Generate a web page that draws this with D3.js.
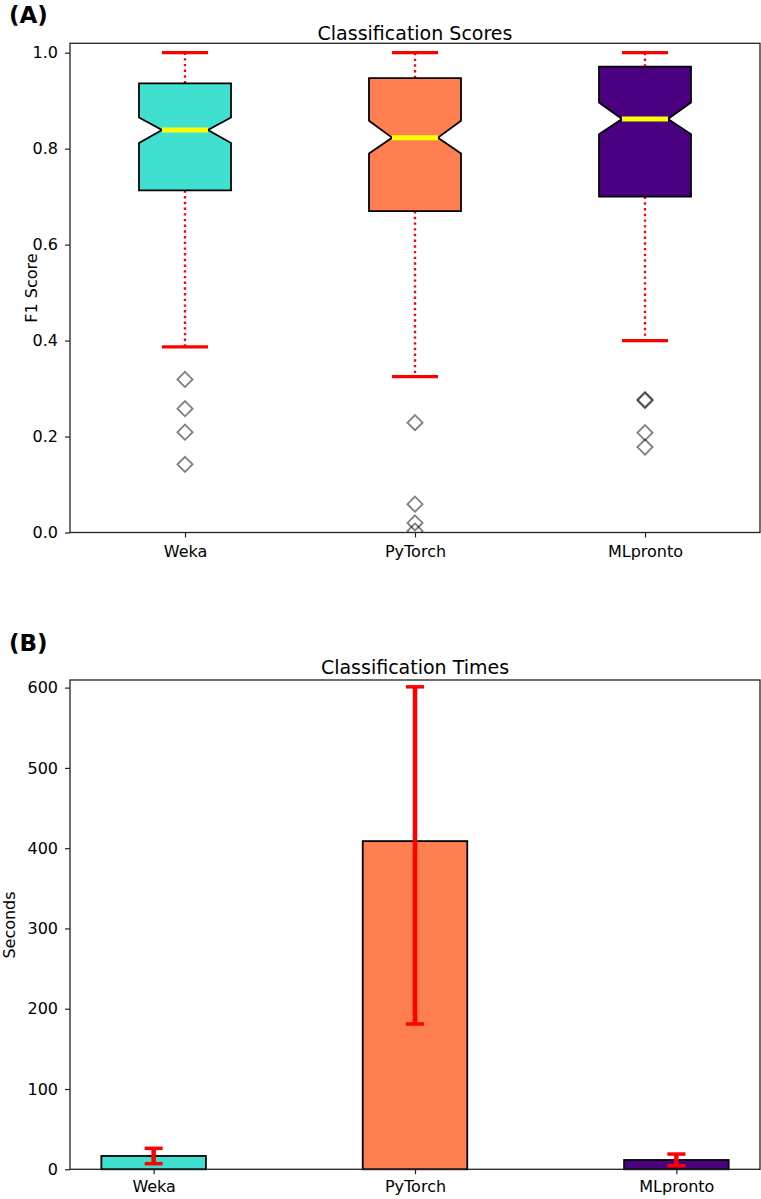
<!DOCTYPE html>
<html><head><meta charset="utf-8">
<script src="https://cdn.jsdelivr.net/npm/d3@7/dist/d3.min.js"></script>
<style>body{margin:0;background:#fff}svg{display:block;font-family:"DejaVu Sans",sans-serif}</style>
</head><body><svg id="c" width="761" height="1199"></svg>
<script>
const categories = ["Weka", "PyTorch", "MLpronto"];
const colors = ["#40E0D0", "#FF7F50", "#4B0082"];
// Panel A: box plot statistics (F1 score)
const boxQ1 = [0.713, 0.670, 0.700];
const boxMedian = [0.839, 0.823, 0.862];
const boxQ3 = [0.936, 0.947, 0.971];
const notchLow = [0.812, 0.790, 0.830];
const notchHigh = [0.865, 0.858, 0.896];
const whiskerLow = [0.387, 0.325, 0.400];
const whiskerHigh = [1.0, 1.0, 1.0];
const outliers = [[0.319, 0.258, 0.209, 0.142], [0.229, 0.059, 0.020, 0.003], [0.277, 0.275, 0.208, 0.178]];
const scoreTicks = [0.0, 0.2, 0.4, 0.6, 0.8, 1.0];
// Panel B: times (seconds)
const times = [16.6, 408.8, 11.6];
const timeErrLow = [7.0, 181, 4.5];
const timeErrHigh = [26.1, 601, 19.0];
const timeTicks = [0, 100, 200, 300, 400, 500, 600];

const svg = d3.select("#c");
const L = 70, R = 760;
const TF = 16;

function frame(g, x0, x1, y0, y1) {
  g.append("rect").attr("x", x0).attr("y", y0).attr("width", x1 - x0).attr("height", y1 - y0)
    .attr("fill", "none").attr("stroke", "#222").attr("stroke-width", 1.3);
}
function styleAxis(a) {
  a.select(".domain").remove();
  a.selectAll("text").attr("font-size", TF).attr("fill", "#000").attr("font-family", "DejaVu Sans");
  a.selectAll("line").attr("stroke", "#222").attr("stroke-width", 1.2);
}

// ---------- Panel A ----------
const xA = d3.scaleLinear().domain([0.5, 3.5]).range([L, R]);
const yA = d3.scaleLinear().domain([0, 1.0196]).range([532.5, 43.3]);
const gA = svg.append("g");
svg.append("defs").append("clipPath").attr("id", "clipA").append("rect")
  .attr("x", L).attr("y", 43.3).attr("width", R - L).attr("height", 532.5 - 43.3);

const axA = gA.append("g").attr("transform", `translate(${L},0)`)
  .call(d3.axisLeft(yA).tickValues(scoreTicks).tickFormat(d3.format(".1f")).tickSize(5).tickPadding(7));
const axAx = gA.append("g").attr("transform", `translate(0,532.5)`)
  .call(d3.axisBottom(xA).tickValues([1, 2, 3]).tickFormat((d, i) => categories[i]).tickSize(5).tickPadding(8));
styleAxis(axA); styleAxis(axAx);

const plotA = gA.append("g").attr("clip-path", "url(#clipA)");
categories.forEach((c, i) => {
  const p = i + 1;
  const xl = xA(p - 0.2), xr = xA(p + 0.2), nl = xA(p - 0.1), nr = xA(p + 0.1), cx = xA(p);
  [[boxQ3[i], whiskerHigh[i]], [boxQ1[i], whiskerLow[i]]].forEach(([a, b]) => {
    plotA.append("line").attr("x1", cx).attr("x2", cx).attr("y1", yA(a)).attr("y2", yA(b))
      .attr("stroke", "#FF0000").attr("stroke-width", 2.3).attr("stroke-dasharray", "2.4,3.3");
  });
  [whiskerHigh[i], whiskerLow[i]].forEach(v => {
    plotA.append("line").attr("x1", xA(p - 0.1)).attr("x2", xA(p + 0.1)).attr("y1", yA(v)).attr("y2", yA(v))
      .attr("stroke", "#FF0000").attr("stroke-width", 3.3);
  });
  const pts = [[xl, yA(boxQ1[i])], [xr, yA(boxQ1[i])], [xr, yA(notchLow[i])], [nr, yA(boxMedian[i])], [xr, yA(notchHigh[i])],
    [xr, yA(boxQ3[i])], [xl, yA(boxQ3[i])], [xl, yA(notchHigh[i])], [nl, yA(boxMedian[i])], [xl, yA(notchLow[i])]];
  plotA.append("path").attr("d", "M" + pts.map(q => q.join(",")).join("L") + "Z")
    .attr("fill", colors[i]).attr("stroke", "#000").attr("stroke-width", 1.8).attr("stroke-linejoin", "miter");
  plotA.append("line").attr("x1", nl).attr("x2", nr).attr("y1", yA(boxMedian[i])).attr("y2", yA(boxMedian[i]))
    .attr("stroke", "#FFFF00").attr("stroke-width", 5);
  outliers[i].forEach(v => {
    const y = yA(v), s = 7.6;
    plotA.append("path").attr("d", `M${cx},${y - s}L${cx + s},${y}L${cx},${y + s}L${cx - s},${y}Z`)
      .attr("fill", "none").attr("stroke", "#000").attr("stroke-opacity", 0.5).attr("stroke-width", 1.8);
  });
});
frame(gA, L, R, 43.3, 532.5);
gA.append("text").attr("x", 415).attr("y", 40).attr("text-anchor", "middle").attr("font-size", 19).text("Classification Scores");
gA.append("text").attr("x", 9).attr("y", 23).attr("font-size", 23).attr("font-weight", "bold").text("(A)");
gA.append("text").attr("transform", "translate(37,288) rotate(-90)").attr("text-anchor", "middle").attr("font-size", TF).text("F1 Score");

// ---------- Panel B ----------
const xB = d3.scaleLinear().domain([-0.32, 2.32]).range([L, R]);
const yB = d3.scaleLinear().domain([0, 609.5]).range([1169.3, 680]);
const gB = svg.append("g");
const axB = gB.append("g").attr("transform", `translate(${L},0)`)
  .call(d3.axisLeft(yB).tickValues(timeTicks).tickFormat(d3.format("d")).tickSize(5).tickPadding(7));
const axBx = gB.append("g").attr("transform", `translate(0,1169.3)`)
  .call(d3.axisBottom(xB).tickValues([0, 1, 2]).tickFormat((d, i) => categories[i]).tickSize(5).tickPadding(6));
styleAxis(axB); styleAxis(axBx);

categories.forEach((c, i) => {
  gB.append("rect").attr("x", xB(i - 0.2)).attr("width", xB(i + 0.2) - xB(i - 0.2))
    .attr("y", yB(times[i])).attr("height", yB(0) - yB(times[i]))
    .attr("fill", colors[i]).attr("stroke", "#000").attr("stroke-width", 1.8);
});
categories.forEach((c, i) => {
  const cx = xB(i);
  gB.append("line").attr("x1", cx).attr("x2", cx).attr("y1", yB(timeErrLow[i])).attr("y2", yB(timeErrHigh[i]))
    .attr("stroke", "#FF0000").attr("stroke-width", 4.5);
  [timeErrLow[i], timeErrHigh[i]].forEach(v => {
    gB.append("line").attr("x1", cx - 9).attr("x2", cx + 9).attr("y1", yB(v)).attr("y2", yB(v))
      .attr("stroke", "#FF0000").attr("stroke-width", 3.5);
  });
});
frame(gB, L, R, 680, 1169.3);
gB.append("text").attr("x", 415).attr("y", 674).attr("text-anchor", "middle").attr("font-size", 19).text("Classification Times");
gB.append("text").attr("x", 9).attr("y", 651).attr("font-size", 23).attr("font-weight", "bold").text("(B)");
gB.append("text").attr("transform", "translate(15,925) rotate(-90)").attr("text-anchor", "middle").attr("font-size", TF).text("Seconds");
</script></body></html>
